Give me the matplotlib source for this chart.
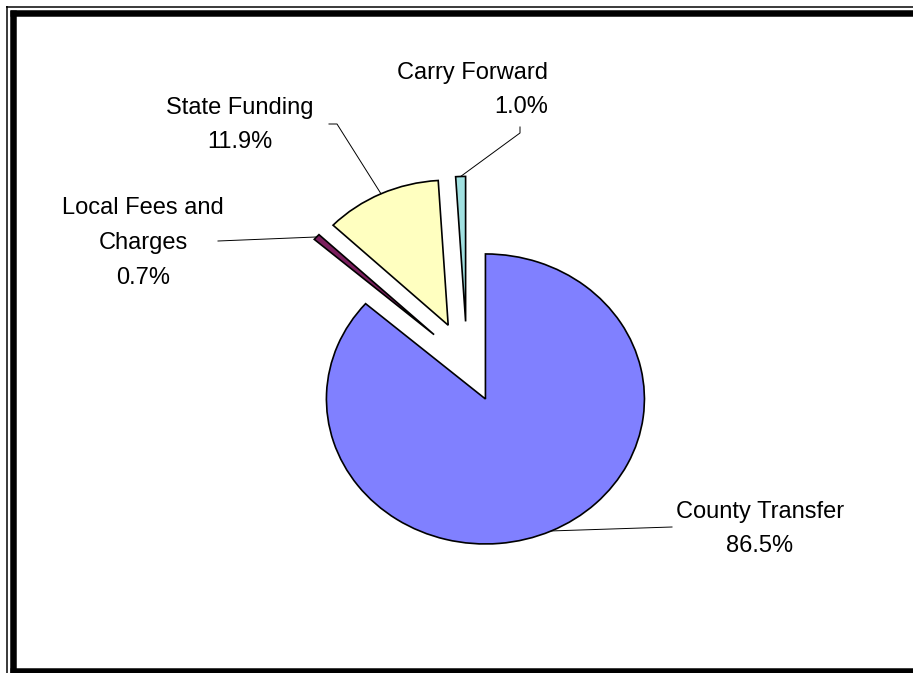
import numpy as np
import matplotlib
matplotlib.use('Agg')
import matplotlib.pyplot as plt
from matplotlib.lines import Line2D

# Datos del gráfico
categorias = ['County Transfer', 'Local Fees and\nCharges', 'State Funding', 'Carry Forward']
valores = [86.5, 0.7, 11.9, 1.0]
colores = ['#8080ff', '#7b1f5e', '#ffffc0', '#a0e0e0']

plt.rcParams['font.family'] = ['Liberation Sans', 'DejaVu Sans']

W, H = 913, 673
fig = plt.figure(figsize=(W / 100, H / 100), dpi=100)
ax = fig.add_axes([0, 0, 1, 1])

# centro y radios del pastel en pixeles (un poco ovalado)
cx, cy = 467, 362
rx, ry = 159, 145


def px(x, y):
    # pixel -> coordenadas de datos
    return (x - cx) / rx, (cy - y) / ry


wedges, _ = ax.pie(valores, colors=colores, startangle=90, counterclock=False,
                   explode=[0.28] * len(valores),
                   wedgeprops=dict(edgecolor='black', linewidth=1.2))
ax.set_aspect('auto')
ax.set_xlim(-cx / rx, (W - cx) / rx)
ax.set_ylim(-(H - cy) / ry, cy / ry)
ax.axis('off')

# Etiquetas y líneas guía
guias = [[(672, 527)], [(218, 241)], [(337, 124), (329, 124)], [(520, 133), (520, 127)]]
textos = [(760, 529, 'center'), (143, 243, 'center'), (240, 125, 'center'), (548, 90, 'right')]

for w, cat, val, guia, (tx, ty, ha) in zip(wedges, categorias, valores, guias, textos):
    ang = np.radians((w.theta1 + w.theta2) / 2)
    x0 = w.center[0] + w.r * np.cos(ang)
    y0 = w.center[1] + w.r * np.sin(ang)
    puntos = [(x0, y0)] + [px(*p) for p in guia]
    ax.plot([p[0] for p in puntos], [p[1] for p in puntos], color='black', lw=0.7)
    lx, ly = px(tx, ty)
    ax.text(lx, ly, f'{cat}\n{val:.1f}%', ha=ha, va='center', multialignment=ha,
            fontsize=17, linespacing=1.75, color='black')

# Marco doble alrededor de la figura
def linea(xs, ys, lw):
    fig.add_artist(Line2D([x / W for x in xs], [1 - y / H for y in ys], color='black',
                          lw=lw * 72 / 100, solid_capstyle='butt', transform=fig.transFigure))

linea([6.5, 6.5], [6, H + 10], 1.5)
linea([6, W + 10], [6.5, 6.5], 1.5)
linea([13, 13], [10, H + 10], 6.5)
linea([10, W + 10], [13, 13], 6.5)
linea([10, W + 10], [671, 671], 6.5)

fig.savefig('out.png', dpi=100)
